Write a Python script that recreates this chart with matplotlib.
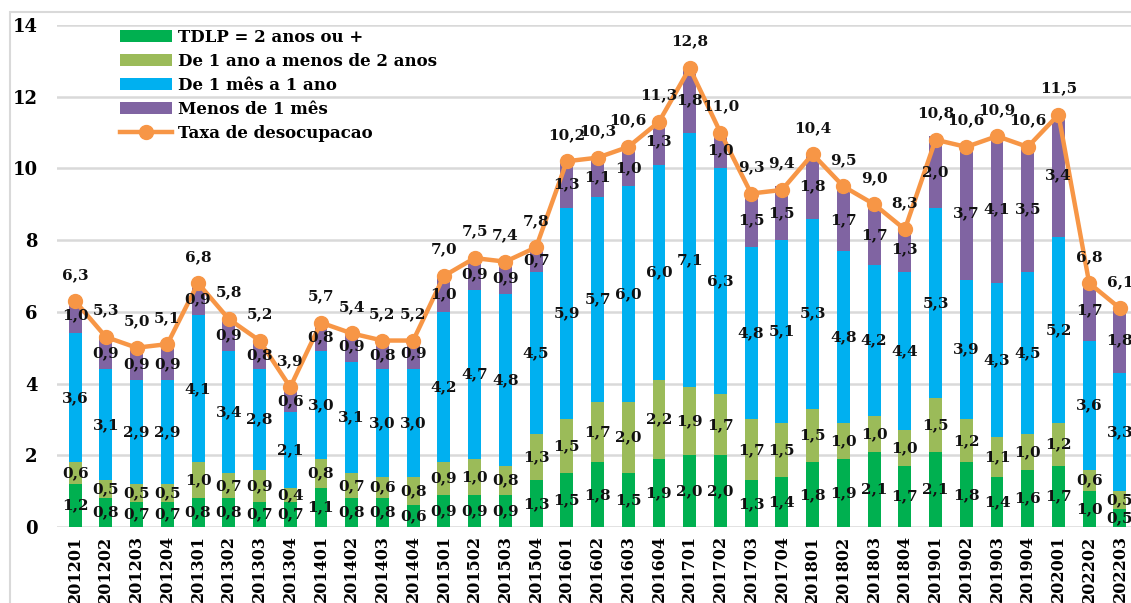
import matplotlib
matplotlib.use('Agg')
import matplotlib.pyplot as plt
from matplotlib.patches import Patch, Rectangle
from matplotlib.lines import Line2D
import numpy as np

plt.rcParams['font.family'] = ['DejaVu Serif']
plt.rcParams['font.weight'] = 'bold'

periods = ['201201', '201202', '201203', '201204',
           '201301', '201302', '201303', '201304',
           '201401', '201402', '201403', '201404',
           '201501', '201502', '201503', '201504',
           '201601', '201602', '201603', '201604',
           '201701', '201702', '201703', '201704',
           '201801', '201802', '201803', '201804',
           '201901', '201902', '201903', '201904',
           '202001', '202202', '202203']

# TDLP = 2 anos ou +
dois_anos = [1.2, 0.8, 0.7, 0.7, 0.8, 0.8, 0.7, 0.7, 1.1, 0.8, 0.8, 0.6,
             0.9, 0.9, 0.9, 1.3, 1.5, 1.8, 1.5, 1.9, 2.0, 2.0, 1.3, 1.4,
             1.8, 1.9, 2.1, 1.7, 2.1, 1.8, 1.4, 1.6, 1.7, 1.0, 0.5]
# De 1 ano a menos de 2 anos
um_a_dois = [0.6, 0.5, 0.5, 0.5, 1.0, 0.7, 0.9, 0.4, 0.8, 0.7, 0.6, 0.8,
             0.9, 1.0, 0.8, 1.3, 1.5, 1.7, 2.0, 2.2, 1.9, 1.7, 1.7, 1.5,
             1.5, 1.0, 1.0, 1.0, 1.5, 1.2, 1.1, 1.0, 1.2, 0.6, 0.5]
# De 1 mes a 1 ano
mes_a_ano = [3.6, 3.1, 2.9, 2.9, 4.1, 3.4, 2.8, 2.1, 3.0, 3.1, 3.0, 3.0,
             4.2, 4.7, 4.8, 4.5, 5.9, 5.7, 6.0, 6.0, 7.1, 6.3, 4.8, 5.1,
             5.3, 4.8, 4.2, 4.4, 5.3, 3.9, 4.3, 4.5, 5.2, 3.6, 3.3]
# Menos de 1 mes
menos_mes = [1.0, 0.9, 0.9, 0.9, 0.9, 0.9, 0.8, 0.6, 0.8, 0.9, 0.8, 0.9,
             1.0, 0.9, 0.9, 0.7, 1.3, 1.1, 1.0, 1.3, 1.8, 1.0, 1.5, 1.5,
             1.8, 1.7, 1.7, 1.3, 2.0, 3.7, 4.1, 3.5, 3.4, 1.7, 1.8]
# Taxa de desocupacao
taxa = [6.3, 5.3, 5.0, 5.1, 6.8, 5.8, 5.2, 3.9, 5.7, 5.4, 5.2, 5.2,
        7.0, 7.5, 7.4, 7.8, 10.2, 10.3, 10.6, 11.3, 12.8, 11.0, 9.3, 9.4,
        10.4, 9.5, 9.0, 8.3, 10.8, 10.6, 10.9, 10.6, 11.5, 6.8, 6.1]

series = [
    ('TDLP = 2 anos ou +', dois_anos, '#00B050'),
    ('De 1 ano a menos de 2 anos', um_a_dois, '#9BBB59'),
    ('De 1 mês a 1 ano', mes_a_ano, '#00B0F0'),
    ('Menos de 1 mês', menos_mes, '#8064A2'),
]
line_color = '#F79646'

def fmt(v):
    return f'{v:.1f}'.replace('.', ',')

W, H = 1131, 603
fig = plt.figure(figsize=(W / 100, H / 100), dpi=100)
ax = fig.add_axes([57 / W, 1 - 527 / H, 1 - 57 / W, (527 - 25) / H])

x = np.arange(len(periods))
bottom = np.zeros(len(periods))
handles = []
for name, vals, color in series:
    vals = np.array(vals)
    ax.bar(x, vals, width=0.42, bottom=bottom, color=color, zorder=2)
    for xi, b, v in zip(x, bottom, vals):
        ax.text(xi, b + v / 2, fmt(v), ha='center', va='center',
                fontsize=11, fontweight='bold', color='#111111', zorder=6)
    bottom = bottom + vals
    handles.append(Patch(facecolor=color, label=name))

ax.plot(x, taxa, color=line_color, linewidth=3.2, marker='o',
        markersize=10, zorder=4)
for xi, v in zip(x, taxa):
    ax.annotate(fmt(v), (xi, v), textcoords='offset points', xytext=(0, 19),
                ha='center', va='center', fontsize=11, fontweight='bold',
                color='#111111', zorder=6)
handles.append(Line2D([], [], color=line_color, linewidth=3.2, marker='o',
                      markersize=10, label='Taxa de desocupacao'))

ax.set_ylim(0, 14)
ax.set_xlim(-0.59, 34.36)
ax.set_yticks(np.arange(0, 15, 2))
ax.set_xticks(x)
ax.set_xticklabels(periods, rotation=90, fontsize=11.5, fontweight='bold')
ax.tick_params(axis='x', length=0, pad=6)
ax.tick_params(axis='y', length=0, pad=14, labelsize=13)
for lbl in ax.get_yticklabels():
    lbl.set_fontweight('bold')
ax.grid(axis='y', color='#D9D9D9', linewidth=1.8, zorder=0)
ax.set_axisbelow(True)
for sp in ax.spines.values():
    sp.set_visible(False)

ax.legend(handles=handles, loc='upper left', frameon=False,
          bbox_to_anchor=(120 / W, 1 - 29 / H), bbox_transform=fig.transFigure,
          borderpad=0, borderaxespad=0, labelspacing=0.42,
          handlelength=3.1, handletextpad=0.35, prop={'weight': 'bold', 'size': 12})

fig.patches.append(Rectangle((10 / W, -0.05), 1.0, 1 - 12 / H + 0.05,
                             transform=fig.transFigure, fill=False,
                             edgecolor='#D9D9D9', linewidth=1.5))

fig.savefig('out.png', dpi=100)
